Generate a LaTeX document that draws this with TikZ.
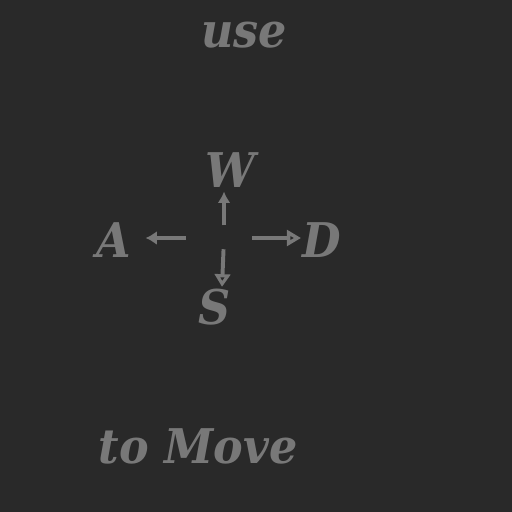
\documentclass[tikz,border=0pt]{standalone}
\usepackage{fontspec}
\setmainfont{DejaVu Serif}[FakeStretch=0.93]
\usepackage{tikz}
\usetikzlibrary{positioning, arrows.meta, calc}
\definecolor{keybg}{HTML}{292929}
\definecolor{keygray}{HTML}{787878}

\begin{document}
\begin{tikzpicture}[x=0.025cm, y=-0.025cm,
	every node/.style={text=keygray, font=\fontsize{34}{40}\selectfont\bfseries\itshape, inner sep=1pt},
	dirarrow/.style={draw=keygray, line width=2.8pt}]
	\fill[keybg] (0,0) rectangle (512,512);
	\useasboundingbox (0,0) rectangle (512,512);
	\node[anchor=base] (use) at (244,48) {use};
	\node[anchor=base] (keyW) at (230,187) {W};
	\node[anchor=base] (keyA) at (114,257) {A};
	\node[anchor=base] (keyD) at (322,257) {D};
	\node[anchor=base] (keyS) at (215,324) {S};
	\node[anchor=base west] (move) at (97,463) {to Move};
	\coordinate (mid) at (224,238);
	% arrows out from the middle
	\draw[dirarrow, -{Latex[length=8pt,width=9pt]}, shorten <=9pt, shorten >=2pt] (mid) -- (mid |- keyW.south);
	\draw[dirarrow, -{Latex[length=8pt,width=10pt]}, shorten <=27pt, shorten >=9pt] (mid) -- (mid -| keyA.east);
	\draw[dirarrow, -{Triangle[open,length=10pt,width=11pt]}, shorten <=20pt] (mid) -- (mid -| keyD.west);
	\draw[dirarrow, -{Triangle[open,length=9pt,width=11pt]}, shorten <=8pt] (mid) -- ($(keyS.north)+(7,0)$);
\end{tikzpicture}
\end{document}
